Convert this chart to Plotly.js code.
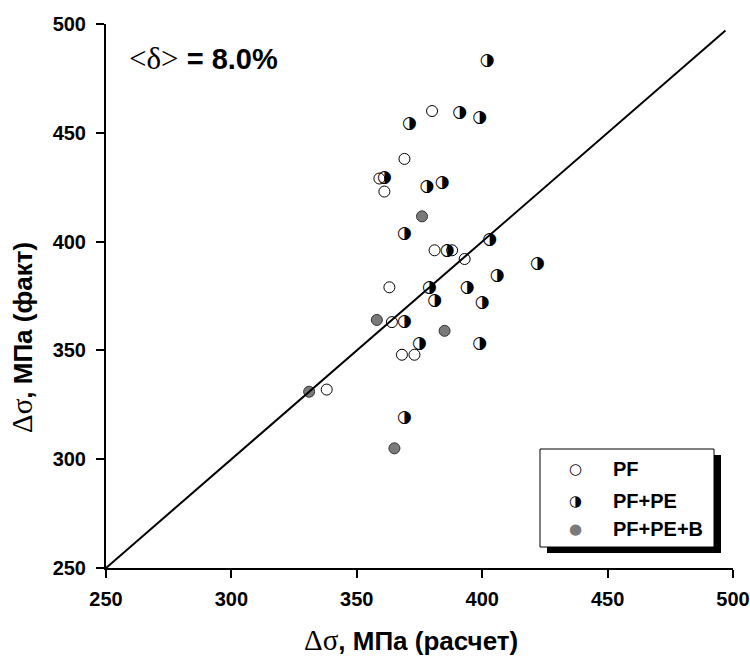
<!DOCTYPE html>
<html><head><meta charset="utf-8">
<script src="https://cdn.plot.ly/plotly-3.0.1.min.js"></script>
<style>body{margin:0;background:#fff}</style>
</head><body><div id="chart" style="width:750px;height:660px"></div>
<script>
// PF (open circles)
const pfX = [380, 369, 359, 361, 381, 388, 393, 363, 364, 368, 373, 338];
const pfY = [460, 438, 429, 423, 396, 396, 392, 379, 363, 348, 348, 332];
// PF+PE (half-filled circles)
const pfpeX = [402, 391, 399, 371, 361, 378, 384, 369, 386, 403, 422, 406, 379, 394, 381, 400, 369, 375, 399, 369];
const pfpeY = [483, 459, 457, 454, 429.5, 425, 427, 403.5, 396, 401, 390, 384.5, 379, 379, 373, 372, 363, 353, 353, 319];
// PF+PE+B (gray circles)
const pfpebX = [376, 358, 385, 331, 365];
const pfpebY = [411.6, 364, 359, 331, 305];
// y = x reference line
const lineX = [250, 497];
const lineY = [250, 497];
const ticks = [250, 300, 350, 400, 450, 500];
const legendLabels = ['PF', 'PF+PE', 'PF+PE+B'];

const L = 106, R = 733, T = 24, B = 568;
const px = v => (v - L) / (R - L);
const py = v => (B - v) / (B - T);

const traces = [
  {x: pfX, y: pfY, mode: 'markers', type: 'scatter', name: 'PF',
   marker: {symbol: 'circle', size: 11, color: '#ffffff', line: {color: '#000', width: 1}}, cliponaxis: false},
  {x: pfpeX, y: pfpeY, mode: 'text', type: 'scatter', name: 'PF+PE',
   text: pfpeX.map(() => '\u25D1'), textposition: 'middle center',
   textfont: {family: 'DejaVu Sans', size: 17, color: '#000'}, cliponaxis: false},
  {x: pfpebX, y: pfpebY, mode: 'markers', type: 'scatter', name: 'PF+PE+B',
   marker: {symbol: 'circle', size: 11, color: '#7a7a7a', line: {color: '#333', width: 1}}, cliponaxis: false},
  {x: lineX, y: lineY, mode: 'lines', type: 'scatter', line: {color: '#000', width: 2}, cliponaxis: false}
];

const tickFont = {family: 'Liberation Sans, Arial, sans-serif', size: 20, color: '#000', weight: 'bold'};
const serif = 'font-family:Liberation Serif,Times New Roman,serif;font-weight:normal';

const annotations = [
  {xref: 'paper', yref: 'paper', x: px(127), y: py(58), xanchor: 'left', yanchor: 'middle', showarrow: false,
   text: '<span style="' + serif + ';font-size:31px">&lt;δ&gt;</span><b> = 8.0%</b>',
   font: {family: 'Liberation Sans, Arial, sans-serif', size: 29, color: '#000'}},
  {xref: 'paper', yref: 'paper', x: px(411), y: py(640), xanchor: 'center', yanchor: 'middle', showarrow: false,
   text: '<span style="' + serif + ';font-size:29px">Δσ</span><b>, МПа (расчет)</b>',
   font: {family: 'Liberation Sans, Arial, sans-serif', size: 26, color: '#000'}},
  {xref: 'paper', yref: 'paper', x: px(22), y: py(338), xanchor: 'center', yanchor: 'middle', showarrow: false, textangle: -90,
   text: '<span style="' + serif + ';font-size:29px">Δσ</span><b>, МПа (факт)</b>',
   font: {family: 'Liberation Sans, Arial, sans-serif', size: 26, color: '#000'}}
];
// manual legend with drop shadow
const legRows = [469, 501, 529];
const legSyms = ['\u25CB', '\u25D1', '\u25CF'];
const legCols = ['#000', '#000', '#7a7a7a'];
legendLabels.forEach((lab, i) => {
  annotations.push({xref: 'paper', yref: 'paper', x: px(575), y: py(legRows[i]), xanchor: 'center', yanchor: 'middle',
    showarrow: false, text: legSyms[i], font: {family: 'DejaVu Sans', size: 15, color: legCols[i]}});
  annotations.push({xref: 'paper', yref: 'paper', x: px(611), y: py(legRows[i]), xanchor: 'left', yanchor: 'middle',
    showarrow: false, text: '<b>' + lab + '</b>', font: {family: 'Liberation Sans, Arial, sans-serif', size: 20, color: '#000'}});
});
const shapes = [
  {type: 'rect', xref: 'paper', yref: 'paper', x0: px(547), x1: px(721), y0: py(455), y1: py(553), fillcolor: '#000', line: {width: 0}, layer: 'above'},
  {type: 'rect', xref: 'paper', yref: 'paper', x0: px(540), x1: px(714), y0: py(449), y1: py(547), fillcolor: '#fff', line: {color: '#000', width: 1}, layer: 'above'}
];

const layout = {
  width: 750, height: 660,
  margin: {l: L, r: 750 - R, t: T, b: 660 - B},
  paper_bgcolor: '#fff', plot_bgcolor: '#fff',
  showlegend: false,
  xaxis: {range: [250, 500], tickvals: ticks, ticktext: ticks.map(String), showgrid: false, zeroline: false,
    showline: true, linecolor: '#000', linewidth: 2, ticks: 'outside', ticklen: 8, tickwidth: 2, tickcolor: '#000',
    tickfont: tickFont, ticklabelstandoff: 4},
  yaxis: {range: [250, 500], tickvals: ticks, ticktext: ticks.map(String), showgrid: false, zeroline: false,
    showline: true, linecolor: '#000', linewidth: 2, ticks: 'outside', ticklen: 8, tickwidth: 2, tickcolor: '#000',
    tickfont: tickFont, ticklabelstandoff: 6},
  annotations: annotations,
  shapes: shapes
};
Plotly.newPlot('chart', traces, layout, {displayModeBar: false, staticPlot: true});
</script>
</body></html>
